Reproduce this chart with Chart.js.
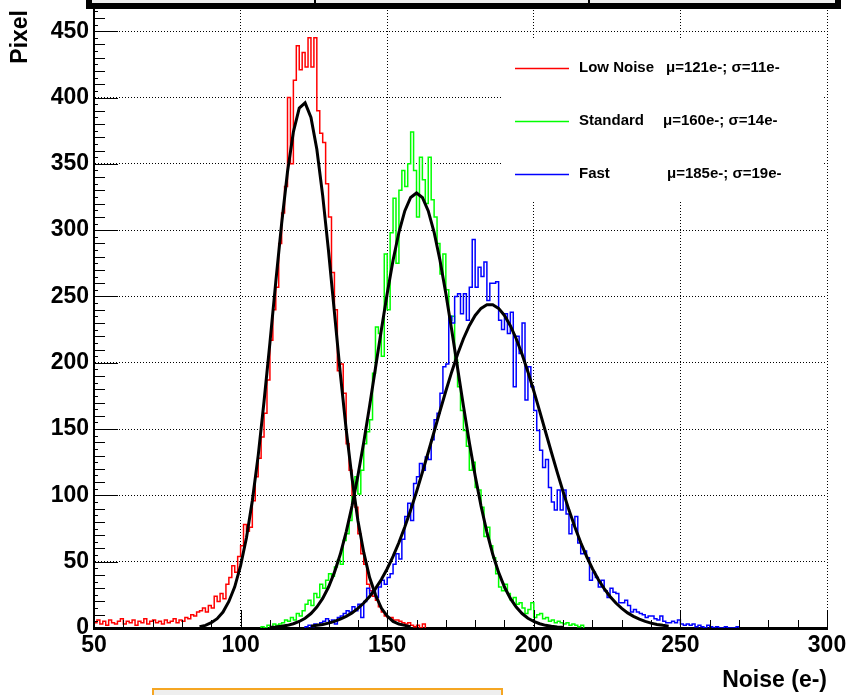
<!DOCTYPE html>
<html><head><meta charset="utf-8">
<script src="https://cdn.jsdelivr.net/npm/chart.js@4/dist/chart.umd.min.js"></script>
<style>html,body{margin:0;padding:0;background:#fff;overflow:hidden}#wrap{width:846px;height:695px;position:relative}</style>
</head><body><div id="wrap"><canvas id="c" width="846" height="695"></canvas></div>
<script>
// ---- data ----
const xTickValues = [50, 100, 150, 200, 250, 300];
const yTickValues = [0, 50, 100, 150, 200, 250, 300, 350, 400, 450];
const seriesNames = ['Low Noise', 'Standard', 'Fast'];
const seriesStats = ['\u03bc=121e-; \u03c3=11e-', '\u03bc=160e-; \u03c3=14e-', '\u03bc=185e-; \u03c3=19e-'];
const seriesColors = ['#ff0000', '#00ff00', '#0000ff'];

// histograms: 1 e- bins, value per bin starting at the given left edge
const lowNoiseStart = 50;
const lowNoiseCounts = [
  4,6,3,5,2,6,4,3,5,7, 3,5,4,6,2,5,4,7,3,5, 6,4,5,3,6,4,5,7,4,6,
  5,8,7,10,9,12,13,15,12,17,
  15,24,20,26,22,33,38,47,42,54,
  62,78,73,76,96,114,128,144,162,187,
  217,240,257,290,313,333,400,350,413,439,
  421,434,423,445,423,445,390,373,366,335,
  310,268,240,194,199,177,139,119,99,91,
  71,56,48,33,28,24,21,16,12,9,
  8,8,6,6,5,4,3,4,2,1,
  2,0,3
];
const standardStart = 107;
const standardCounts = [
  1,0,2,1,3,2,3,4,6,5,
  8,6,11,9,13,18,21,17,26,23,
  33,30,36,41,39,46,51,48,66,71,
  81,99,114,101,119,139,148,157,192,227,
  222,205,282,240,298,324,275,330,345,333,
  350,374,345,310,355,338,320,355,323,310,
  290,267,282,255,232,235,202,182,164,149,
  137,119,125,106,104,91,69,76,62,53,
  41,31,28,33,26,21,23,18,19,15,
  11,14,19,8,10,11,7,8,5,6,
  4,5,4,3,4,2,3,2,1,2
];
const fastStart = 122;
const fastCounts = [
  1,2,1,3,2,4,5,7,4,6,
  3,8,9,11,13,12,16,13,18,8,
  20,30,26,28,23,31,36,33,38,41,
  48,56,52,67,84,94,81,109,114,124,
  119,129,127,142,157,162,177,197,199,235,
  230,250,252,237,252,232,257,293,257,272,
  265,276,247,260,260,261,232,225,237,222,
  238,182,220,207,230,172,197,182,164,149,
  134,121,127,106,95,89,104,89,104,86,
  71,78,84,64,56,58,53,36,42,38,
  31,36,28,23,30,27,26,19,19,21,
  17,12,14,12,11,10,8,9,9,7,
  6,9,5,4,4,5,4,6,3,2,
  3,2,3,1,2,1,0,2,1,0,
  1,0,0,1,0,0,0,1
];

// fitted curves (black), sampled every 2 e-
const fitStep = 2;
const lowNoiseFitStart = 86;
const lowNoiseFit = [1,2,4,7,12,20,31,47,68,96,130,171,215,261,305,344,374,392,396,385,361,326,284,238,192,150,113,81,57,38,25,15,9,5,3,2,1];
const standardFitStart = 110;
const standardFit = [0.5,0.8,1.3,2.0,3.2,4.9,7.4,10.9,15.8,22.3,30.9,41.9,55.6,72.3,92.0,114.8,140.1,167.5,196.0,224.7,252.3,277.3,298.4,314.5,324.6,328,324.6,314.5,298.4,277.3,252.3,224.7,196.0,167.5,140.1,114.8,92.0,72.3,55.6,41.9,30.9,22.3,15.8,10.9,7.4,4.9,3.2,2.0,1.3,0.8,0.5];
const fastFitStart = 124;
const fastFit = [1.4,2.0,2.7,3.7,5.0,6.7,8.8,11.4,14.8,18.8,23.8,29.7,36.6,44.7,54.0,64.5,76.1,88.9,102.7,117.3,132.5,148.0,163.5,178.7,193.1,206.4,218.1,228.0,235.7,241.0,243.7,243.7,241.0,235.7,228.0,218.1,206.4,193.1,178.7,163.5,148.0,132.5,117.3,102.7,88.9,76.1,64.5,54.0,44.7,36.6,29.7,23.8,18.8,14.8,11.4,8.8,6.7,5.0,3.7,2.7,2.0,1.4];

// ---- build library data ----
function histPoints(start, counts) {
  const pts = [{x: start, y: 0}];
  counts.forEach((v, i) => pts.push({x: start + i, y: v}));
  pts.push({x: start + counts.length, y: 0});
  return pts;
}
function fitPoints(start, vals) {
  return vals.map((v, i) => ({x: start + i * fitStep, y: v}));
}

const FONT = "'Liberation Sans', Arial, Helvetica, sans-serif";
Chart.defaults.font.family = FONT;

const histStyle = (c, order) => ({borderColor: c, borderWidth: 1.5, pointRadius: 0, stepped: 'before', fill: false, order});
const fitStyle = {borderColor: '#000', borderWidth: 3, pointRadius: 0, tension: 0, fill: false, order: 0};

const decor = {
  id: 'decor',
  beforeDatasetsDraw(chart) {
    const ctx = chart.ctx;
    ctx.save();
    ctx.fillStyle = '#fff';
    ctx.fillRect(503, 40, 321, 160);
    ctx.restore();
  },
  afterDraw(chart) {
    const {ctx, scales: {x, y}, chartArea: a} = chart;
    ctx.save();
    ctx.strokeStyle = '#000';
    ctx.lineWidth = 1;
    for (let v = 0; v <= 465; v += 5) {
      const len = v % 50 === 0 ? 24 : (v % 10 === 0 ? 11 : 4);
      const py = Math.round(y.getPixelForValue(v)) + 0.5;
      ctx.beginPath(); ctx.moveTo(a.left, py); ctx.lineTo(a.left + len, py); ctx.stroke();
    }
    for (let v = 50; v <= 300; v += 10) {
      const len = v % 50 === 0 ? 18 : 8;
      const px = Math.round(x.getPixelForValue(v)) + 0.5;
      ctx.beginPath(); ctx.moveTo(px, a.bottom); ctx.lineTo(px, a.bottom - len); ctx.stroke();
    }
    // legend
    const ly = [68, 121, 174];
    const sx = [666, 663, 667];
    ctx.font = 'bold 15px ' + FONT;
    ctx.textBaseline = 'middle';
    ctx.textAlign = 'left';
    for (let i = 0; i < seriesNames.length; i++) {
      ctx.strokeStyle = seriesColors[i];
      ctx.lineWidth = 1.5;
      ctx.beginPath(); ctx.moveTo(515, ly[i] + 0.5); ctx.lineTo(569, ly[i] + 0.5); ctx.stroke();
      ctx.fillStyle = '#000';
      ctx.fillText(seriesNames[i], 579, ly[i]);
      ctx.fillText(seriesStats[i], sx[i], ly[i]);
    }
    // top panel box (cut off)
    ctx.fillStyle = '#000';
    ctx.fillRect(86, -10, 755, 19);
    ctx.fillStyle = '#eeeeee';
    ctx.fillRect(92, -10, 743, 13);
    ctx.fillStyle = '#000';
    ctx.fillRect(314, -10, 2, 13);
    ctx.fillRect(588, -10, 2, 13);
    // bottom box (cut off)
    ctx.fillStyle = '#eeeeee';
    ctx.fillRect(153, 689, 349, 20);
    ctx.strokeStyle = '#f5a623';
    ctx.lineWidth = 2;
    ctx.strokeRect(153, 689, 349, 20);
    ctx.restore();
  }
};

new Chart(document.getElementById('c'), {
  type: 'line',
  data: {
    datasets: [
      Object.assign({label: seriesNames[0], data: histPoints(lowNoiseStart, lowNoiseCounts)}, histStyle(seriesColors[0], 3)),
      Object.assign({label: seriesNames[1], data: histPoints(standardStart, standardCounts)}, histStyle(seriesColors[1], 2)),
      Object.assign({label: seriesNames[2], data: histPoints(fastStart, fastCounts)}, histStyle(seriesColors[2], 1)),
      Object.assign({label: 'fit1', data: fitPoints(lowNoiseFitStart, lowNoiseFit)}, fitStyle),
      Object.assign({label: 'fit2', data: fitPoints(standardFitStart, standardFit)}, fitStyle),
      Object.assign({label: 'fit3', data: fitPoints(fastFitStart, fastFit)}, fitStyle)
    ]
  },
  options: {
    responsive: false,
    animation: false,
    devicePixelRatio: 1,
    layout: {padding: {top: 10, right: 19, left: 0, bottom: 0}},
    plugins: {legend: {display: false}, tooltip: {enabled: false}},
    scales: {
      x: {
        type: 'linear', min: 50, max: 300,
        afterFit(s) { s.height = 67; s.paddingLeft = 0; s.paddingRight = 0; },
        afterBuildTicks(s) { s.ticks = xTickValues.map(v => ({value: v})); },
        ticks: {font: {size: 23, weight: 'bold'}, color: '#000', padding: 4, maxRotation: 0, autoSkip: false},
        grid: {color: '#000', lineWidth: 1, drawTicks: false},
        border: {display: true, color: '#000', width: 3, dash: [1, 2]},
        title: {display: true, text: 'Noise (e-)', align: 'end', color: '#000', font: {size: 23, weight: 'bold'}, padding: {top: 0, bottom: 1}}
      },
      y: {
        type: 'linear', min: 0, max: 466,
        afterFit(s) { s.width = 94; s.paddingTop = 0; s.paddingBottom = 0; },
        afterBuildTicks(s) { s.ticks = yTickValues.map(v => ({value: v})); },
        ticks: {font: {size: 23, weight: 'bold'}, color: '#000', padding: 5},
        grid: {color: '#000', lineWidth: 1, drawTicks: false},
        border: {display: true, color: '#000', width: 2, dash: [1, 2]},
        title: {display: true, text: 'Pixel', align: 'end', color: '#000', font: {size: 23, weight: 'bold'}, padding: {top: 7, bottom: 0}}
      }
    }
  },
  plugins: [decor]
});
</script>
</body></html>
